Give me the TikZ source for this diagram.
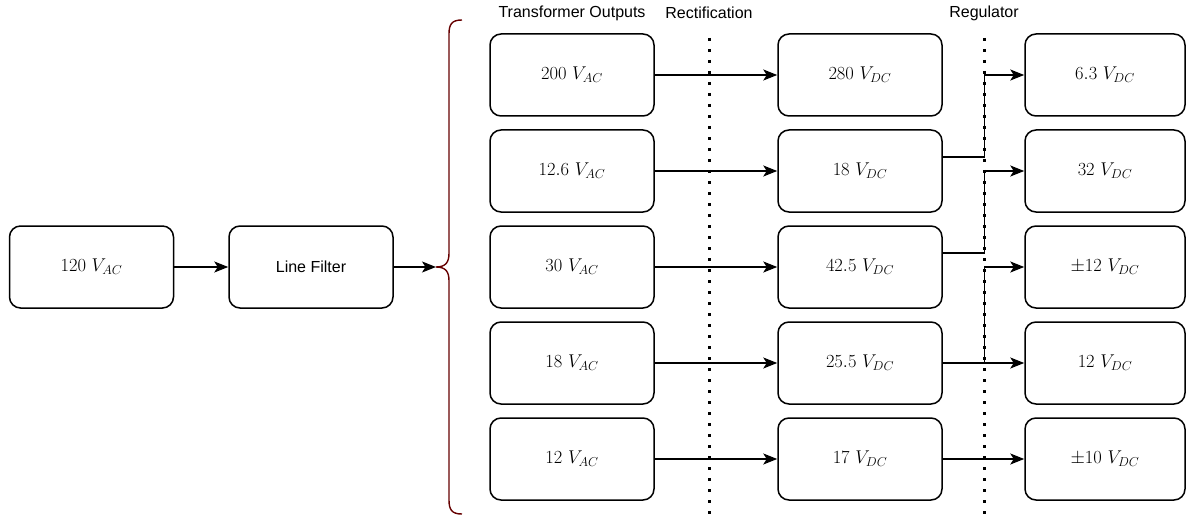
\documentclass[tikz,border=0pt]{standalone}
\usepackage{fix-cm}
\usepackage{fontspec}
\newfontfamily\labfont{Liberation Sans}
\usetikzlibrary{arrows.meta}
\begin{document}
\begin{tikzpicture}[x=1pt,y=-1pt,
  blk/.style={draw=black,line width=1.5pt,rounded corners=11pt,minimum width=164pt,minimum height=82pt,inner sep=0pt,font=\fontsize{18.5}{20}\selectfont},
  conn/.style={line width=1.4pt,-{Stealth[length=14pt,width=11pt,inset=3.5pt]}},
  dotline/.style={line width=3pt,dash pattern=on 3pt off 8pt},
  hdr/.style={font=\labfont\fontsize{16}{18}\selectfont,inner sep=0pt}]
\useasboundingbox (0,0) rectangle (1186,516);
% headings
\node[hdr] (h1) at (572,13) {Transformer Outputs};
\node[hdr] (h2) at (709,13) {Rectification};
\node[hdr] (h3) at (984,13) {Regulator};
% dotted separators
\coordinate (dA) at (709,38);
\coordinate (dB) at (709,516);
\coordinate (dC) at (984,38);
\coordinate (dD) at (984,516);
\draw[dotline] (dA) -- (dB);
\draw[dotline] (dC) -- (dD);
% left blocks
\node[blk] (in) at (91.5,267) {$120\ V_{AC}$};
\node[blk] (lf) at (311,267) {\labfont\fontsize{16}{18}\selectfont Line Filter};
% brace
\coordinate (tip) at (436,267);
\draw[line width=1.4pt,color=red!40!black] (462,20) .. controls (452,20) and (449,24) .. (449,34)
  -- (449,253) .. controls (449,262) and (446,267) .. (tip)
  .. controls (446,267) and (449,272) .. (449,281)
  -- (449,500) .. controls (449,510) and (452,514) .. (462,514);
\draw[conn] (in) -- (lf);
\draw[conn] (lf) -- (tip);
% columns
\foreach \n/\t/\y in {t1/200/75,t2/12.6/171,t3/30/267,t4/18/363,t5/12/459}{
  \node[blk] (\n) at (572,\y) {$\t\ V_{AC}$};}
\foreach \n/\t/\y in {d1/280/75,d2/18/171,d3/42.5/267,d4/25.5/363,d5/17/459}{
  \node[blk] (\n) at (860,\y) {$\t\ V_{DC}$};}
\node[blk,minimum width=160pt] (r1) at (1105,75) {$6.3\ V_{DC}$};
\node[blk,minimum width=160pt] (r2) at (1105,171) {$32\ V_{DC}$};
\node[blk,minimum width=160pt] (r3) at (1105,267) {$\pm12\ V_{DC}$};
\node[blk,minimum width=160pt] (r4) at (1105,363) {$12\ V_{DC}$};
\node[blk,minimum width=160pt] (r5) at (1105,459) {$\pm10\ V_{DC}$};
\foreach \i in {1,...,5}{\draw[conn] (t\i) -- (d\i);}
\draw[conn] ([yshift=14pt]d2.east) -- ++(42,0) |- (r1.west);
\draw[conn] ([yshift=14pt]d3.east) -- ++(42,0) |- (r2.west);
\draw[conn] (d4.east) -- ++(42,0) |- (r3.west);
\draw[conn] (d4) -- (r4);
\draw[conn] (d5) -- (r5);
\end{tikzpicture}
\end{document}
